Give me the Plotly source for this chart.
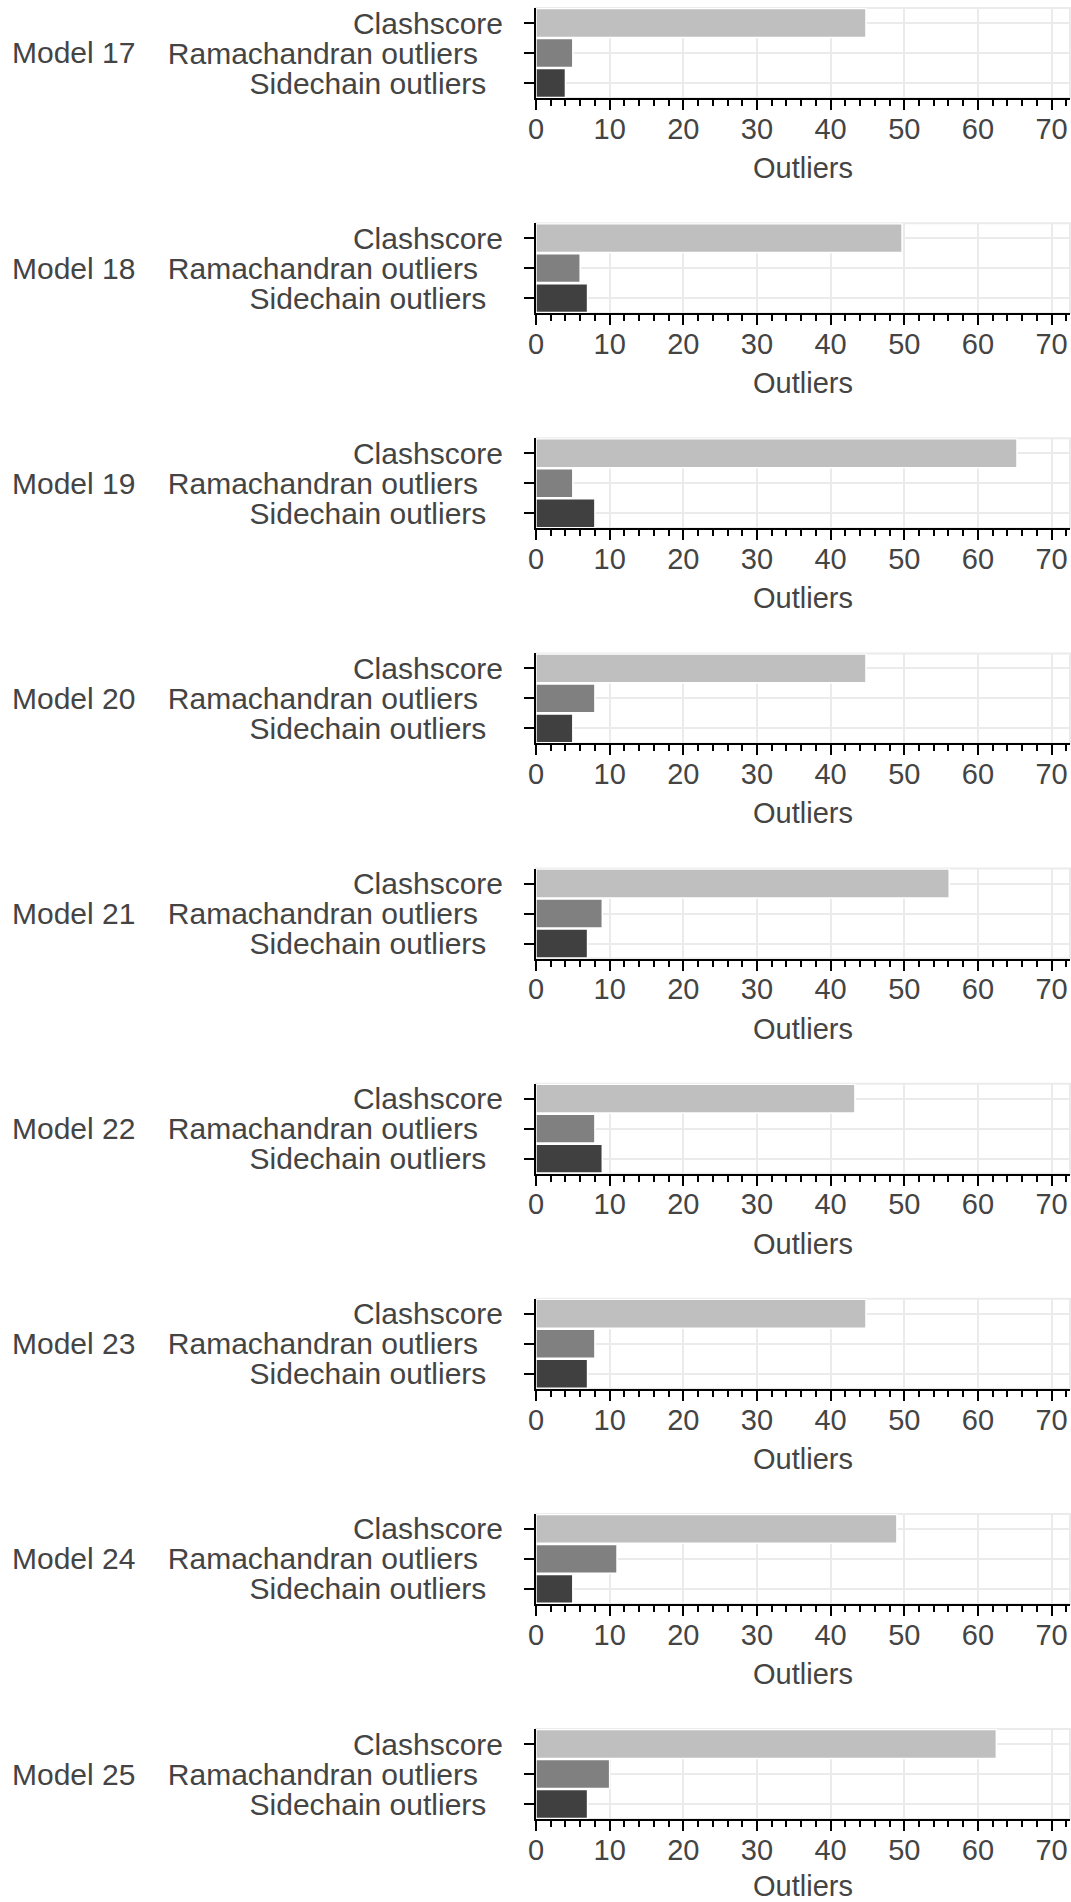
import plotly.graph_objects as go

models = ["Model 17", "Model 18", "Model 19", "Model 20", "Model 21",
          "Model 22", "Model 23", "Model 24", "Model 25"]
metrics = ["Clashscore", "Ramachandran outliers", "Sidechain outliers"]
metric_labels = ["Clashscore", "Ramachandran outliers\u00a0\u00a0\u00a0", "Sidechain outliers\u00a0\u00a0"]
clashscore = [44.8, 49.7, 65.3, 44.8, 56.1, 43.3, 44.8, 49.0, 62.5]
ramachandran = [5, 6, 5, 8, 9, 8, 8, 11, 10]
sidechain = [4, 7, 8, 5, 7, 9, 7, 5, 7]
bar_colors = ["#bfbfbf", "#808080", "#404040"]
x_ticks = [0, 10, 20, 30, 40, 50, 60, 70]

W, H = 1071, 1902
ML, MR, MT, MB = 536, 1, 8, 83
plot_h = H - MT - MB
panel_h = 90
period = (plot_h - panel_h) / 8

FONT = "Liberation Sans, Arial, sans-serif"
FS = 29
FSY = 30
TXT = "#444444"
GRID = "#ebebeb"

fig = go.Figure()
shapes = []
annotations = []
layout_axes = {}
for k, model in enumerate(models):
    n = "" if k == 0 else str(k + 1)
    vals = [clashscore[k], ramachandran[k], sidechain[k]]
    fig.add_trace(go.Bar(
        x=vals, y=metrics, orientation="h",
        marker=dict(color=bar_colors, line=dict(color="white", width=1.5)),
        xaxis="x" + n, yaxis="y" + n, showlegend=False,
    ))
    top = MT + period * k
    bottom = top + panel_h
    d0 = min(1.0, max(0.0, (H - MB - bottom) / plot_h))
    d1 = min(1.0, max(0.0, (H - MB - top) / plot_h))
    layout_axes["xaxis" + n] = dict(
        anchor="y" + n, domain=[0, 1], range=[0, 72.5], automargin=False,
        tickvals=x_ticks, ticks="outside", ticklen=10, tickwidth=2, tickcolor="black",
        ticklabelstandoff=-6,
        showline=True, linecolor="black", linewidth=2,
        showgrid=True, gridcolor=GRID, gridwidth=2, zeroline=False,
        minor=dict(dtick=2, tick0=0, ticks="outside", ticklen=6, tickwidth=1.5,
                   tickcolor="black", showgrid=False),
        tickfont=dict(size=FS, color=TXT, family=FONT),
        title=dict(text="Outliers", font=dict(size=FS, color=TXT, family=FONT), standoff=14),
    )
    layout_axes["yaxis" + n] = dict(
        anchor="x" + n, domain=[d0, d1], automargin=False,
        categoryorder="array", categoryarray=metrics, autorange="reversed",
        tickvals=metrics, ticktext=metric_labels,
        ticks="outside", ticklen=10, tickwidth=2, tickcolor="black",
        ticklabelstandoff=15,
        showline=True, linecolor="black", linewidth=2,
        showgrid=True, gridcolor=GRID, gridwidth=2, zeroline=False,
        tickfont=dict(size=FSY, color=TXT, family=FONT),
    )
    shapes.append(dict(type="rect", xref="x" + n + " domain", yref="y" + n + " domain",
                       x0=0, x1=1, y0=0, y1=1, line=dict(color=GRID, width=2),
                       layer="below"))
    annotations.append(dict(text=model, xref="x" + n + " domain", yref="y" + n + " domain",
                            x=(10 - ML) / (W - ML - MR), y=0.5, xanchor="left", yanchor="middle",
                            showarrow=False, font=dict(size=FSY, color=TXT, family=FONT)))

fig.update_layout(
    width=W, height=H,
    margin=dict(l=ML, r=MR, t=MT, b=MB, autoexpand=False),
    paper_bgcolor="white", plot_bgcolor="white",
    bargap=0.04,
    shapes=shapes, annotations=annotations,
    font=dict(family=FONT, color=TXT),
    **layout_axes,
)

fig.write_html(
    "out.html",
    config={"displayModeBar": False},
    post_script="document.body.style.margin='0';document.body.style.overflow='hidden';",
)
